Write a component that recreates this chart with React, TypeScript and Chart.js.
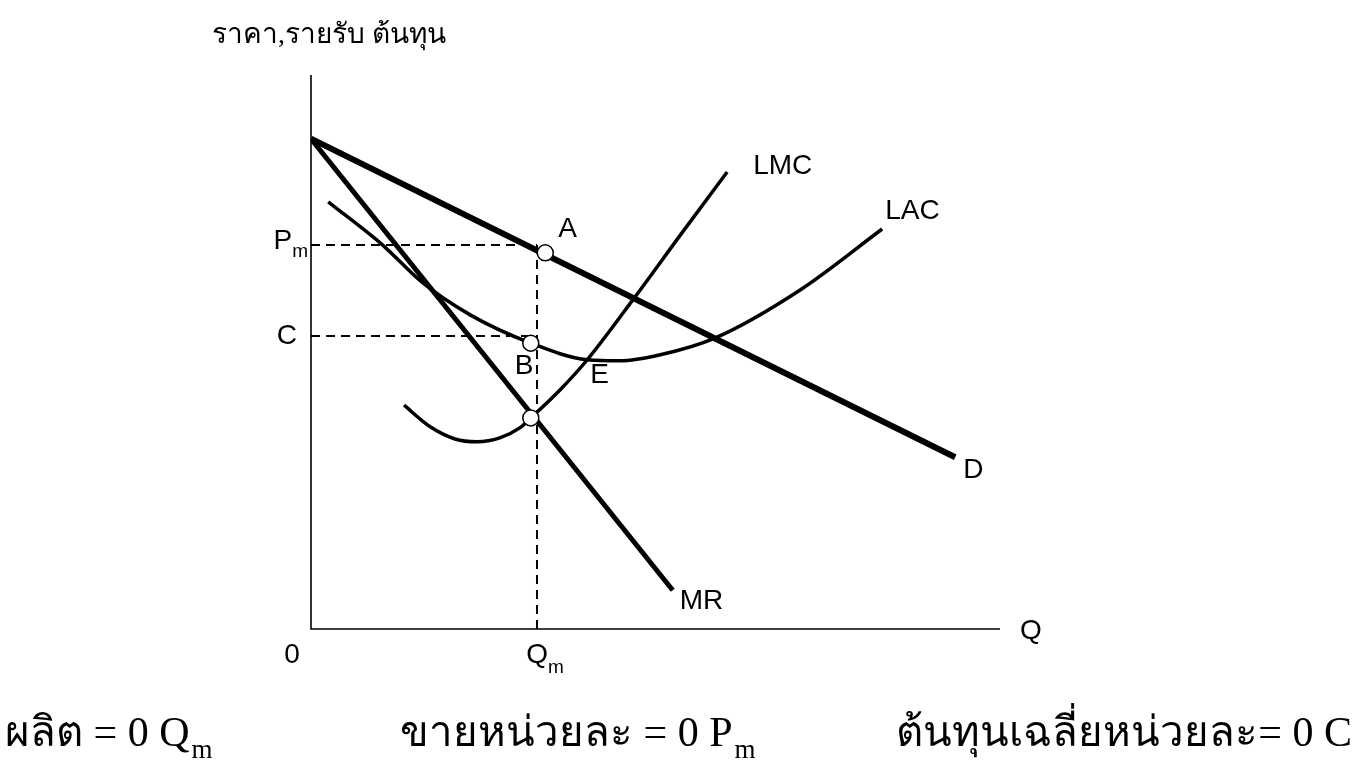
import React, { useEffect, useRef } from "react";
import { Chart, registerables } from "chart.js";

Chart.register(...registerables);

// ---- data ----
const demandQ = [0, 9.35];
const demandP = [8.85, 3.1];
const mrQ = [0, 5.25];
const mrP = [8.85, 0.7];
const lacQ = [0.25, 1.04, 1.61, 2.31, 3.19, 4.01, 4.48, 5.07, 5.86, 7.1, 8.29];
const lacP = [7.71, 6.93, 6.26, 5.67, 5.16, 4.86, 4.84, 4.95, 5.25, 6.12, 7.22];
const lmcQ = [1.35, 1.73, 2.09, 2.41, 2.74, 3.03, 3.19, 3.61, 4.01, 4.7, 5.36, 6.04];
const lmcP = [4.04, 3.65, 3.43, 3.38, 3.45, 3.63, 3.81, 4.31, 4.86, 5.99, 7.11, 8.25];
const qm = 3.28;
const pm = 6.93;
const avgCost = 5.29;
const markerNames = ["A", "B", ""];
const markerQ = [3.4, 3.19, 3.19];
const markerP = [6.79, 5.16, 3.81];
const equilibriumQ = 4.01;
const equilibriumP = 4.86;
const axisMax = 10;

const yTitle = "ราคา,รายรับ ต้นทุน";
const xTitle = "Q";
const captionMain = ["ผลิต = 0 Q", "ขายหน่วยละ = 0 P", "ต้นทุนเฉลี่ยหน่วยละ= 0 C"];
const captionSub = ["m", "m", ""];

const pts = (xs: number[], ys: number[]) => xs.map((x, i) => ({ x, y: ys[i] }));

const LABEL_FONT = '28px "Liberation Sans", Arial, sans-serif';
const SUB_FONT = '19px "Liberation Sans", Arial, sans-serif';
const THAI_FONT = '"Liberation Serif", "Times New Roman", serif';

function drawSub(ctx: CanvasRenderingContext2D, main: string, sub: string, x: number, y: number, align: "left" | "right" | "center", mainFont: string, subFont: string, subDy: number, gap = 0) {
  ctx.font = mainFont;
  const wm = ctx.measureText(main).width;
  ctx.font = subFont;
  const ws = sub ? ctx.measureText(sub).width + gap : 0;
  const total = wm + ws;
  let left = x;
  if (align === "right") left = x - total;
  if (align === "center") left = x - total / 2;
  ctx.textAlign = "left";
  ctx.font = mainFont;
  ctx.fillText(main, left, y);
  if (sub) {
    ctx.font = subFont;
    ctx.fillText(sub, left + wm + gap, y + subDy);
  }
}

const diagramPlugin = {
  id: "diagram",
  beforeDatasetsDraw(chart: any) {
    const { ctx, scales } = chart;
    const xs = scales.x;
    const ys = scales.y;
    ctx.save();
    ctx.strokeStyle = "#000";
    ctx.lineWidth = 1.6;
    ctx.beginPath();
    ctx.moveTo(xs.getPixelForValue(0), ys.getPixelForValue(axisMax));
    ctx.lineTo(xs.getPixelForValue(0), ys.getPixelForValue(0));
    ctx.lineTo(xs.getPixelForValue(axisMax), ys.getPixelForValue(0));
    ctx.stroke();
    ctx.restore();
  },
  afterDatasetsDraw(chart: any) {
    const { ctx, scales } = chart;
    const xs = scales.x;
    const ys = scales.y;
    const px = (v: number) => xs.getPixelForValue(v);
    const py = (v: number) => ys.getPixelForValue(v);
    ctx.save();
    ctx.fillStyle = "#000";
    ctx.textBaseline = "middle";
    ctx.font = LABEL_FONT;
    ctx.textAlign = "left";
    // curve labels
    ctx.fillText("LMC", px(lmcQ[lmcQ.length - 1]) + 26, py(lmcP[lmcP.length - 1]) - 6);
    ctx.fillText("LAC", px(lacQ[lacQ.length - 1]) + 3, py(lacP[lacP.length - 1]) - 18);
    ctx.fillText("D", px(demandQ[1]) + 8, py(demandP[1]) + 13);
    ctx.fillText("MR", px(mrQ[1]) + 7, py(mrP[1]) + 11);
    ctx.fillText(markerNames[0], px(markerQ[0]) + 13, py(markerP[0]) - 24);
    ctx.fillText(markerNames[1], px(markerQ[1]) - 16, py(markerP[1]) + 23);
    ctx.fillText("E", px(equilibriumQ) + 3, py(equilibriumP) + 16);
    ctx.fillText(xTitle, px(axisMax) + 20, py(0) + 2);
    // axis labels
    ctx.textAlign = "right";
    ctx.fillText("C", px(0) - 14, py(avgCost));
    ctx.textAlign = "center";
    ctx.fillText("0", px(0) - 19, py(0) + 26);
    drawSub(ctx, "P", "m", px(0) - 3, py(pm) - 4, "right", LABEL_FONT, SUB_FONT, 11);
    drawSub(ctx, "Q", "m", px(qm) + 8, py(0) + 26, "center", LABEL_FONT, SUB_FONT, 13);
    // title
    ctx.textAlign = "left";
    ctx.textBaseline = "alphabetic";
    ctx.font = `28px ${THAI_FONT}`;
    ctx.fillText(yTitle, 212, 43);
    // captions
    const mainF = `42px ${THAI_FONT}`;
    const subF = `27px ${THAI_FONT}`;
    drawSub(ctx, captionMain[0], captionSub[0], 5, 746, "left", mainF, subF, 12, 2);
    drawSub(ctx, captionMain[1], captionSub[1], 400, 746, "left", mainF, subF, 12, 2);
    drawSub(ctx, captionMain[2], captionSub[2], 1352, 746, "right", mainF, subF, 12, 2);
    ctx.restore();
  },
};

export default function App() {
  const ref = useRef<HTMLCanvasElement | null>(null);
  useEffect(() => {
    if (!ref.current) return;
    const dashed = { borderColor: "#000", borderWidth: 2, borderDash: [9, 6], pointRadius: 0, fill: false };
    const chart = new Chart(ref.current, {
      type: "line",
      data: {
        datasets: [
          {
            label: "points",
            data: pts(markerQ, markerP),
            showLine: false,
            pointRadius: 8,
            pointBackgroundColor: "#fff",
            pointBorderColor: "#000",
            pointBorderWidth: 1.5,
          },
          { label: "D", data: pts(demandQ, demandP), borderColor: "#000", borderWidth: 6, pointRadius: 0, borderCapStyle: "butt" },
          { label: "MR", data: pts(mrQ, mrP), borderColor: "#000", borderWidth: 5, pointRadius: 0 },
          { label: "LMC", data: pts(lmcQ, lmcP), borderColor: "#000", borderWidth: 3.5, pointRadius: 0, cubicInterpolationMode: "monotone" },
          { label: "LAC", data: pts(lacQ, lacP), borderColor: "#000", borderWidth: 3.5, pointRadius: 0, cubicInterpolationMode: "monotone" },
          { label: "Pm", data: [{ x: 0, y: pm }, { x: qm, y: pm }], ...dashed },
          { label: "C", data: [{ x: 0, y: avgCost }, { x: markerQ[1], y: avgCost }], ...dashed },
          { label: "Qm", data: [{ x: qm, y: pm }, { x: qm, y: 0 }], ...dashed },
        ] as any,
      },
      options: {
        responsive: false,
        animation: false,
        layout: { padding: { left: 311, top: 75, right: 364, bottom: 134 } },
        plugins: { legend: { display: false }, tooltip: { enabled: false }, title: { display: false } },
        scales: {
          x: { type: "linear", min: 0, max: axisMax, display: false },
          y: { type: "linear", min: 0, max: axisMax, display: false },
        },
      },
      plugins: [diagramPlugin],
    });
    return () => chart.destroy();
  }, []);
  return (
    <div style={{ position: "absolute", left: 0, top: 0, width: 1364, height: 763, background: "#fff" }}>
      <canvas ref={ref} width={1364} height={763} style={{ width: 1364, height: 763 }} />
    </div>
  );
}
